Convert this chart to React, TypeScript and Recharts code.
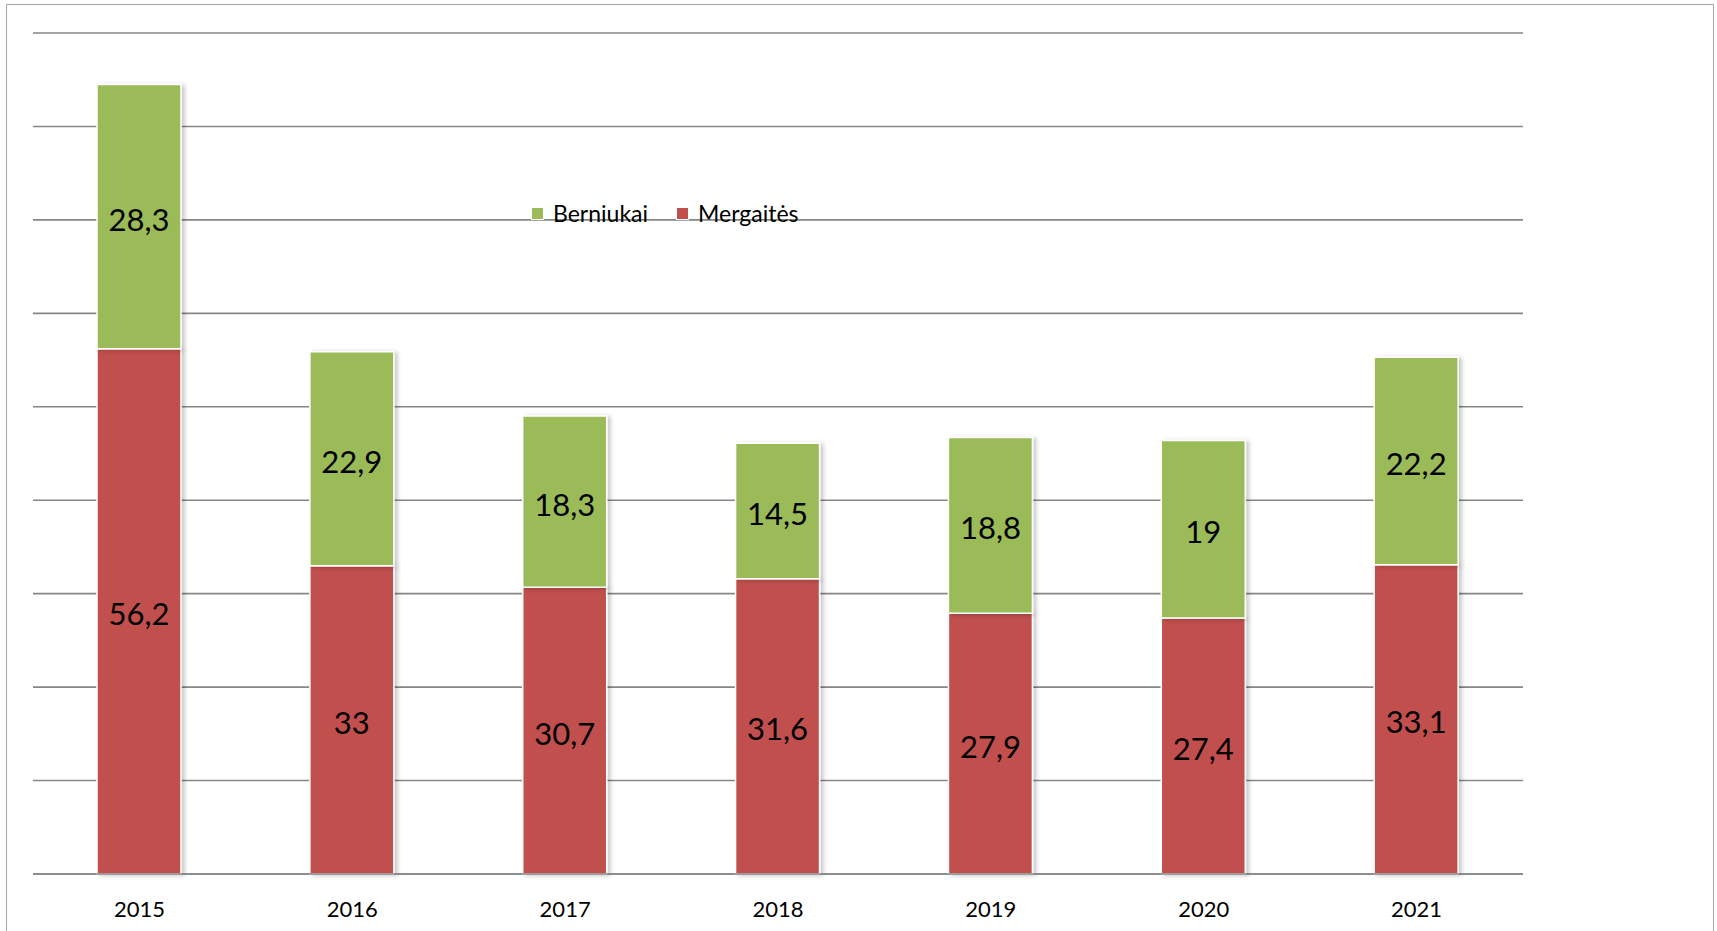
import { BarChart, Bar, XAxis, YAxis, CartesianGrid, Legend, LabelList } from "recharts";

const years = ["2015", "2016", "2017", "2018", "2019", "2020", "2021"];
const mergaites = [56.2, 33, 30.7, 31.6, 27.9, 27.4, 33.1];
const berniukai = [28.3, 22.9, 18.3, 14.5, 18.8, 19, 22.2];
const yTicks = [0, 10, 20, 30, 40, 50, 60, 70, 80, 90];

const GREEN = "#9BBB59";
const RED = "#C0504D";
const FONT = "Lato, 'Open Sans', sans-serif";

const data = years.map((y, i) => ({
  year: y,
  mergaites: mergaites[i],
  berniukai: berniukai[i],
}));

const fmt = (v: any) => String(v).replace(".", ",");

function LegendBox() {
  const items = [
    { name: "Berniukai", color: GREEN },
    { name: "Mergaitės", color: RED },
  ];
  return (
    <div style={{ display: "flex", alignItems: "center", fontFamily: FONT, fontSize: 23, color: "#000", whiteSpace: "nowrap" }}>
      {items.map((it) => (
        <div key={it.name} style={{ display: "flex", alignItems: "center", marginRight: 28 }}>
          <span
            style={{
              display: "inline-block",
              width: 11,
              height: 11,
              background: it.color,
              border: "1px solid #fff",
              marginRight: 9,
            }}
          />
          <span>{it.name}</span>
        </div>
      ))}
    </div>
  );
}

export default function App() {
  return (
    <div style={{ position: "absolute", left: 0, top: 0, width: 1717, height: 931, background: "#fff", overflow: "hidden" }}>
      <div
        style={{
          position: "absolute",
          left: 6,
          top: 4,
          width: 1708,
          height: 960,
          border: "1px solid #a6a6a6",
          boxSizing: "border-box",
        }}
      />
      <BarChart
        width={1717}
        height={931}
        data={data}
        margin={{ top: 33, right: 194, left: 33, bottom: 0 }}
        barSize={84}
        style={{ position: "absolute", left: 0, top: 0 }}
      >
        <defs>
          <filter id="barShadow" x="-10%" y="-5%" width="130%" height="110%">
            <feDropShadow dx="3" dy="1" stdDeviation="2" floodColor="#000" floodOpacity="0.22" />
          </filter>
        </defs>
        <CartesianGrid vertical={false} stroke="#868686" strokeWidth={1.6} />
        <XAxis
          dataKey="year"
          height={57}
          tickLine={false}
          tickMargin={21}
          axisLine={{ stroke: "#868686", strokeWidth: 1.6 }}
          tick={{ fill: "#000", fontSize: 22, fontFamily: FONT }}
          interval={0}
        />
        <YAxis hide domain={[0, 90]} ticks={yTicks} />
        <Legend
          layout="horizontal"
          verticalAlign="middle"
          align="center"
          wrapperStyle={{ position: "absolute", left: 531, top: 199, width: "auto" }}
          content={() => <LegendBox />}
        />
        <Bar
          dataKey="mergaites"
          name="Mergaitės"
          stackId="a"
          fill={RED}
          stroke="#fff"
          strokeWidth={1.5}
          filter="url(#barShadow)"
          isAnimationActive={false}
        >
          <LabelList dataKey="mergaites" position="center" formatter={fmt} fill="#000" fontSize={31} fontFamily={FONT} dy={3} />
        </Bar>
        <Bar
          dataKey="berniukai"
          name="Berniukai"
          stackId="a"
          fill={GREEN}
          stroke="#fff"
          strokeWidth={1.5}
          filter="url(#barShadow)"
          isAnimationActive={false}
        >
          <LabelList dataKey="berniukai" position="center" formatter={fmt} fill="#000" fontSize={31} fontFamily={FONT} dy={3} />
        </Bar>
      </BarChart>
    </div>
  );
}
